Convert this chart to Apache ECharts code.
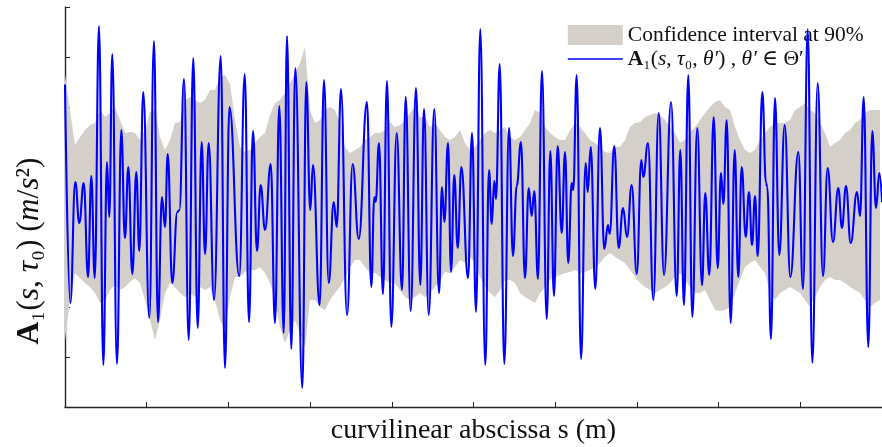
<!DOCTYPE html>
<html>
<head>
<meta charset="utf-8">
<script src="https://cdn.jsdelivr.net/npm/echarts@6/dist/echarts.min.js"></script>
<style>
  html, body { margin: 0; padding: 0; background: #fff; overflow: hidden; }
  #main { width: 882px; height: 447px; }
</style>
</head>
<body>
<div id="main"></div>
<script>
// curvilinear abscissa s (m) of the signal's turning points
var sLine = [0, .065, .126, .175, .229, .282, .322, .364, .416, .469,
  .514, .542, .579, .636, .689, .734, .775, .824, .873, .909,
  .958, 1.032, 1.089, 1.138, 1.187, 1.224, 1.257, 1.313, 1.375, 1.40,
  1.457, 1.514, 1.570, 1.624, 1.673, 1.714, 1.759, 1.824, 1.906, 1.958,
  2.013, 2.133, 2.200, 2.252, 2.301, 2.350, 2.395, 2.448, 2.518, 2.570,
  2.623, 2.677, 2.717, 2.770, 2.819, 2.905, 2.953, 3.002, 3.035, 3.117,
  3.170, 3.228, 3.289, 3.326, 3.378, 3.452, 3.521, 3.595, 3.696, 3.749,
  3.786, 3.803, 3.843, 3.892, 3.941, 3.994, 4.060, 4.125, 4.170, 4.231,
  4.296, 4.349, 4.394, 4.452, 4.520, 4.578, 4.614, 4.643, 4.688, 4.725,
  4.765, 4.807, 4.851, 4.933, 4.982, 5.031, 5.083, 5.144, 5.190, 5.223,
  5.255, 5.275, 5.321, 5.377, 5.435, 5.483, 5.529, 5.581, 5.630, 5.676,
  5.712, 5.744, 5.789, 5.838, 5.896, 5.940, 5.985, 6.030, 6.080, 6.120,
  6.160, 6.202, 6.221, 6.263, 6.316, 6.373, 6.398, 6.435, 6.491, 6.548,
  6.601, 6.646, 6.667, 6.723, 6.777, 6.830, 6.879, 6.936, 6.998, 7.054,
  7.078, 7.136, 7.201, 7.267, 7.332, 7.418, 7.487, 7.531, 7.576, 7.629,
  7.678, 7.739, 7.797, 7.837, 7.886, 7.940, 7.989, 8.029, 8.058, 8.099,
  8.148, 8.197, 8.241, 8.283, 8.332, 8.372, 8.409, 8.446, 8.479, 8.535,
  8.580, 8.596, 8.641, 8.690, 8.743, 8.809, 8.878, 8.976, 9.033, 9.091,
  9.147, 9.213, 9.278, 9.335, 9.400, 9.465, 9.510, 9.559, 9.617, 9.694,
  9.731, 9.776, 9.832, 9.881, 9.927, 9.967, 10.0];

// A1(s, tau0, theta') in m/s^2 at those points
var aLine = [2.45, -1.92, 0.50, -0.32, 0.48, -1.40, 0.62, -1.42, 3.62, -3.16,
  0.90, -0.20, 3.06, -3.14, 1.54, -0.62, 0.80, -1.34, 0.70, -0.88,
  2.30, -2.22, 3.32, -2.30, 0.20, -0.40, 1.06, -1.52, -0.10, -0.06,
  2.56, -2.66, 2.98, -2.42, 1.30, -0.94, 1.28, -1.86, 3.02, -3.22,
  2.00, -1.38, 2.66, -2.30, 1.52, -0.88, 0.44, -0.46, 0.86, -2.32,
  2.02, -2.52, 3.42, -2.84, 2.78, -3.62, 2.50, -0.06, 0.84, -1.96,
  2.54, -1.52, 0.10, -0.40, 2.36, -2.16, 0.86, -0.64, 2.10, -1.60,
  0.20, 0.10, 1.28, -1.74, 2.52, -2.40, 1.48, -1.66, 2.20, -2.08,
  2.38, -1.56, 1.96, -2.16, 1.96, -1.72, 0.40, -0.30, 1.28, -1.30,
  0.64, -0.82, 0.80, -1.42, 1.48, -2.10, 3.56, -3.16, 0.74, -0.34,
  0.52, 0.16, 2.86, -3.14, 1.58, -0.98, 0.42, 1.30, -1.42, 0.38,
  -0.18, 0.32, -1.44, 2.72, -2.24, 1.12, -1.78, 1.22, -0.52, 1.10,
  -1.12, 0.48, 0.34, 2.64, -3.04, 0.88, 0.30, 1.20, -1.64, 1.58,
  -0.84, -0.36, -0.54, 1.22, -0.82, -0.02, -0.60, 0.44, -1.34, 0.94,
  0.60, 1.28, -1.86, 1.88, -1.36, 2.10, -1.78, 1.14, -1.96, 2.64,
  -2.20, 1.58, -1.56, 0.28, -1.36, 1.80, -1.22, 0.68, 0.06, 1.74,
  -2.32, 1.14, -1.40, 0.80, -0.60, 0.30, -0.76, 0.22, -0.98, 2.30,
  0.48, 0.40, -2.64, 2.18, -0.96, 1.64, -1.40, 1.10, -1.64, 3.56,
  -3.12, 2.48, -1.38, 0.78, -0.70, 0.38, -0.42, 0.42, -0.72, 0.30,
  -0.18, 2.20, -2.80, 1.52, -0.02, 0.68, 0.10];

// 90% confidence band, sampled every bandStep metres from s = 0
var bandStep = 0.0612;
var bandHi = [2.64,1.94,1.24,1.40,1.54,1.64,1.68,1.94,1.80,1.88,
  2.00,1.74,1.48,1.50,1.48,1.34,1.54,1.90,1.94,1.40,
  1.14,1.34,1.68,1.70,2.14,2.20,2.14,2.08,2.14,2.34,
  2.34,2.60,2.64,2.46,1.74,1.20,1.10,1.14,1.28,1.40,
  1.48,1.84,2.08,2.14,2.28,2.48,2.68,2.88,3.20,1.94,
  1.68,1.74,1.94,2.00,1.94,1.68,1.20,1.08,1.14,1.20,
  1.34,1.40,1.48,1.48,1.54,1.70,1.60,1.64,1.74,1.88,
  2.00,1.80,1.80,1.60,1.68,1.54,1.40,1.34,1.40,1.54,
  1.28,1.14,1.20,1.34,1.48,1.54,1.48,1.54,1.60,1.40,
  1.34,1.40,1.54,1.68,1.94,1.88,1.60,1.48,1.40,1.34,
  1.34,1.54,1.68,1.60,1.48,1.34,1.28,1.20,1.10,1.08,
  1.20,1.20,1.34,1.60,1.68,1.70,1.80,1.84,1.88,1.84,
  1.74,1.60,1.48,1.28,1.34,1.48,1.60,1.74,1.88,2.00,
  2.10,2.14,2.00,1.94,1.60,1.34,1.14,1.08,1.14,1.34,
  1.48,1.60,1.68,1.68,1.68,1.74,1.94,2.00,2.08,1.94,
  1.88,1.68,1.48,1.20,1.28,1.34,1.48,1.54,1.68,1.74,
  1.88,1.94,1.94,1.94];
var bandLo = [-2.66,-1.86,-1.32,-1.42,-1.52,-1.60,-1.72,-1.92,-1.86,-1.66,
  -1.56,-1.66,-1.60,-1.50,-1.42,-1.52,-1.86,-2.26,-2.66,-2.26,
  -1.72,-1.52,-1.60,-1.72,-1.80,-1.72,-1.80,-1.60,-1.66,-1.60,
  -1.86,-2.26,-2.46,-1.80,-1.40,-1.40,-1.30,-1.26,-1.26,-1.20,
  -1.32,-1.52,-1.86,-2.40,-2.72,-2.46,-2.26,-2.52,-2.80,-1.86,
  -1.86,-2.00,-2.06,-1.86,-1.72,-1.60,-1.40,-1.20,-1.06,-1.06,
  -1.20,-1.32,-1.32,-1.40,-1.46,-1.52,-1.52,-1.66,-1.80,-1.86,
  -1.80,-1.72,-1.80,-1.72,-1.60,-1.46,-1.30,-1.32,-1.20,-1.06,
  -1.12,-1.00,-1.12,-1.40,-1.60,-1.72,-1.80,-1.66,-1.46,-1.46,
  -1.52,-1.72,-1.80,-1.86,-1.92,-1.72,-1.60,-1.46,-1.40,-1.36,
  -1.32,-1.30,-1.26,-1.32,-1.30,-1.26,-1.20,-1.12,-1.00,-0.92,
  -1.00,-1.06,-1.12,-1.26,-1.40,-1.52,-1.60,-1.66,-1.72,-1.66,
  -1.60,-1.52,-1.40,-1.32,-1.46,-1.60,-1.72,-1.72,-1.66,-1.86,
  -2.06,-2.08,-2.06,-2.00,-1.72,-1.46,-1.20,-1.12,-1.06,-1.20,
  -1.32,-1.72,-1.86,-1.72,-1.66,-1.60,-1.66,-1.72,-1.86,-2.00,
  -1.80,-1.60,-1.46,-1.40,-1.46,-1.46,-1.52,-1.60,-1.66,-1.72,
  -1.86,-2.00,-1.92,-1.86];

var bandName = 'Confidence interval at 90%';
var lineName = 'A1(s,τ0,θ′), θ′∈Θ′';
var serif = "'Liberation Serif', 'DejaVu Serif', serif";
var axisColor = '#262626';
var bandColor = '#d4d0c9';

var lineData = [], bandData = [];
for (var i = 0; i < Math.min(sLine.length, aLine.length); i++) {
  lineData.push([sLine[i], aLine[i]]);
}
for (var j = 0; j < Math.min(bandHi.length, bandLo.length); j++) {
  bandData.push([+(j * bandStep).toFixed(4), bandLo[j], bandHi[j]]);
}

// whole band drawn as one polygon: upper edge forward, lower edge back
function renderBand(params, api) {
  if (params.dataIndex !== 0) return null;
  var up = [], dn = [];
  for (var k = 0; k < bandData.length; k++) {
    up.push(api.coord([bandData[k][0], bandData[k][2]]));
    dn.unshift(api.coord([bandData[k][0], bandData[k][1]]));
  }
  return {
    type: 'polygon',
    shape: { points: up.concat(dn) },
    style: { fill: bandColor }
  };
}

var myChart = echarts.init(document.getElementById('main'));
var mathRich = function (size) {
  return {
    b: { fontFamily: serif, fontSize: size, fontWeight: 'bold', color: '#111' },
    i: { fontFamily: serif, fontSize: size, fontStyle: 'italic', color: '#111' },
    n: { fontFamily: serif, fontSize: size, color: '#111' }
  };
};

var option = {
  animation: false,
  grid: { left: 65, right: 0, top: 7, bottom: 40, containLabel: false, outerBoundsMode: 'none' },
  legend: {
    orient: 'vertical',
    left: 562, top: 19,
    itemWidth: 55, itemHeight: 20, itemGap: 2,
    data: [
      { name: bandName, icon: 'rect', itemStyle: { color: bandColor } },
      { name: lineName, itemStyle: { opacity: 0, color: 'rgba(0,0,0,0)', borderWidth: 0 } }
    ],
    lineStyle: { width: 1.6, color: '#0000ff', opacity: 1 },
    textStyle: { fontFamily: serif, fontSize: 21.5, color: '#111', rich: mathRich(21.5) },
    formatter: function (name) {
      if (name === lineName) {
        return '{b|A}{n|₁(}{i|s}{n|, }{i|τ}{n|₀, }{i|θ′}{n|) , }{i|θ′}{n| ∈ Θ′}';
      }
      return '{n|' + name + '}';
    }
  },
  xAxis: {
    type: 'value', min: 0, max: 10, interval: 1,
    name: 'curvilinear abscissa s (m)',
    nameLocation: 'middle', nameGap: 10,
    nameTextStyle: { fontFamily: serif, fontSize: 28, color: '#111' },
    axisLine: { onZero: false, lineStyle: { color: axisColor, width: 1.4 } },
    axisTick: { inside: true, length: 5, lineStyle: { color: axisColor } },
    axisLabel: { show: false },
    splitLine: { show: false }
  },
  yAxis: {
    type: 'value', min: -4, max: 4, interval: 1,
    name: '{b|A}{n|₁(}{i|s}{n|, }{i|τ}{n|₀) (}{i|m}{n|/}{i|s}{n|²)}',
    nameLocation: 'middle', nameGap: 19, nameRotate: 90,
    nameTextStyle: { rich: mathRich(31.5), padding: [0, 88, 0, 0] },
    axisLine: { show: true, onZero: false, lineStyle: { color: axisColor, width: 1.4 } },
    axisTick: { show: true, inside: true, length: 5, lineStyle: { color: axisColor } },
    axisLabel: { show: false },
    splitLine: { show: false }
  },
  series: [
    {
      name: bandName, type: 'custom', data: bandData,
      encode: { x: 0, y: [1, 2] },
      renderItem: renderBand,
      silent: true,
      itemStyle: { color: bandColor },
      z: 2
    },
    {
      name: lineName, type: 'line', data: lineData,
      symbol: 'none', showSymbol: false,
      smooth: 0.45, smoothMonotone: 'x',
      color: '#0000ff',
      lineStyle: { color: '#0000ff', width: 2.1 },
      z: 5
    }
  ]
};

myChart.setOption(option);
</script>
</body>
</html>
